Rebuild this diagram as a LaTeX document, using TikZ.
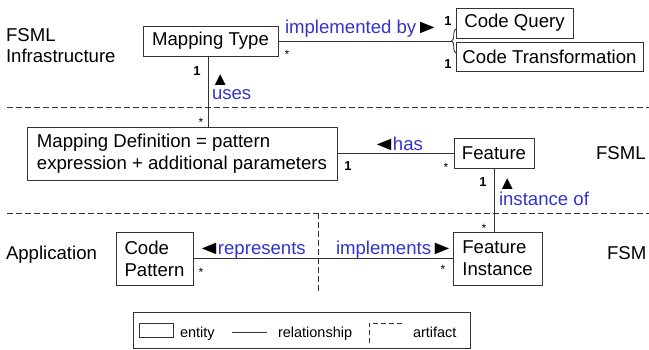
\documentclass[tikz,border=0pt]{standalone}
\usepackage{fontspec}
\usepackage{graphicx}
\setmainfont{Liberation Sans}
\usetikzlibrary{decorations.pathreplacing}
\definecolor{lblue}{RGB}{51,51,204}
\definecolor{lgray}{RGB}{50,50,50}
\newcommand{\trir}{\kern-1pt\textcolor{black}{\scalebox{1.3}[1.05]{►}}}
\newcommand{\tril}{\kern-3pt\textcolor{black}{\scalebox{1.3}[1.05]{◄}}\kern-3pt}
\begin{document}
\begin{tikzpicture}[x=1pt,y=-1pt,
  every node/.style={inner sep=0pt, outer sep=0pt},
  entity/.style={draw=lgray, line width=1pt, rectangle, font=\fontsize{18.6}{22}\selectfont, align=left},
  rel/.style={draw=lgray, line width=1pt},
  sep/.style={draw=lgray, line width=0.9pt, dash pattern=on 6pt off 3pt},
  mult/.style={font=\fontsize{13}{15}\selectfont\bfseries, anchor=base},
  star/.style={font=\fontsize{12}{14}\selectfont, anchor=base},
  lbl/.style={text=lblue, font=\fontsize{18.6}{22}\selectfont, anchor=base west},
  tri/.style={font=\fontsize{18.6}{22}\selectfont, anchor=base west},
  zone/.style={font=\fontsize{18.6}{22}\selectfont, anchor=base west},
  leg/.style={font=\fontsize{14.5}{17}\selectfont, anchor=base west}
]
\useasboundingbox (0,0) rectangle (649,349);

% separators
\draw[sep] (7,107) -- (649,107);
\draw[sep] (7,213) -- (649,213);
\draw[sep] (318,213) -- (318,293);

% zone labels
\node[zone] (z1a) at (6,41) {FSML};
\node[zone] (z1b) at (6,62) {Infrastructure};
\node[zone] (z2) at (596,159) {FSML};
\node[zone] (z3a) at (6,259) {Application};
\node[zone] (z3b) at (607,259) {FSM};

% entities
\node[entity, minimum width=135pt, minimum height=30pt] (mt) at (210.5,41) {Mapping Type};
\node[entity, minimum width=117pt, minimum height=30pt] (cq) at (514.5,23) {Code Query};
\node[entity, minimum width=187pt, minimum height=29pt] (ct) at (549.5,56.5) {Code Transformation};
\node[entity, minimum width=310pt, minimum height=53pt] (md) at (182,153.5) {Mapping Definition = pattern\\expression + additional parameters};
\node[entity, minimum width=80pt, minimum height=30pt] (f) at (494,153) {Feature};
\node[entity, minimum width=77pt, minimum height=53pt] (cp) at (154.5,258.5) {Code\\Pattern};
\node[entity, minimum width=89pt, minimum height=53pt] (fi) at (497.5,258.5) {Feature\\Instance};

% brace and relationships
\draw[draw=lgray, line width=0.9pt, decorate, decoration={brace, amplitude=4.5pt}] (456,53) -- (456,29);
\coordinate (brtip) at (451.5,41);
\draw[rel] (mt.east |- brtip) -- (brtip);
\draw[rel] (208,56) coordinate (mtb) -- (mtb |- md.north);
\draw[rel] (md.east |- f.west) -- (f.west);
\draw[rel] (494,168) coordinate (fb) -- (fb |- fi.north);
\draw[rel] (cp.east) -- (fi.west);

% relationship labels
\node[lbl] (limpl) at (285,33) {implemented by\trir};
\node[tri] (tuses) at (211,85) {▲};
\node[lbl] (luses) at (212,99) {uses};
\node[lbl] (lhas) at (375,150) {\tril has};
\node[tri] (tinst) at (498,189) {▲};
\node[lbl] (linst) at (499,205) {instance of};
\node[lbl] (lrep) at (200,254) {\tril represents};
\node[lbl] (limp) at (336,254) {implements\trir};

% multiplicities
\node[star] (s1) at (287,58) {*};
\node[mult] (m1) at (448,25) {1};
\node[mult] (m2) at (448,68) {1};
\node[mult] (m3) at (197,75) {1};
\node[star] (s2) at (201,126) {*};
\node[mult] (m4) at (348,170) {1};
\node[star] (s3) at (446,171) {*};
\node[mult] (m5) at (483,186) {1};
\node[star] (s4) at (484,232) {*};
\node[star] (s5) at (201,276) {*};
\node[star] (s6) at (443,273) {*};

% legend
\node[draw=lgray, line width=1pt, minimum width=337pt, minimum height=36pt] (legbox) at (301.5,330) {};
\node[draw=lgray, line width=1pt, minimum width=34pt, minimum height=14pt] (legent) at (156,330) {};
\node[leg] (tent) at (180,337) {entity};
\coordinate (rla) at (232,332);
\coordinate (rlb) at (267,332);
\draw[lgray, line width=1pt] (rla) -- (rlb);
\node[leg] (trel) at (278,337) {relationship};
\coordinate (arta) at (369,343);
\coordinate (artb) at (405,323);
\draw[sep, dash pattern=on 5pt off 3pt] (arta) |- (artb);
\node[leg] (tart) at (413,337) {artifact};
\end{tikzpicture}
\end{document}
